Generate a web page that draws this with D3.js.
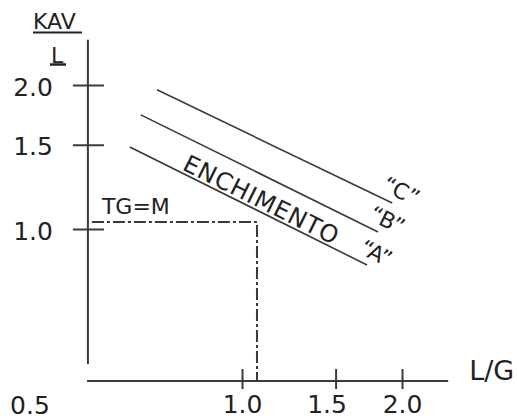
<!DOCTYPE html>
<html>
<head>
<meta charset="utf-8">
<script src="https://cdn.jsdelivr.net/npm/d3@7"></script>
<style>
  html, body { margin: 0; padding: 0; background: #fff; }
  svg { display: block; font-family: 'DejaVu Sans', sans-serif; }
</style>
</head>
<body>
<svg id="chart" width="517" height="419"></svg>
<script>
// Curvas características (log-log)
const packings = ['A', 'B', 'C'];
const lgStart  = [0.615, 0.645, 0.692];
const kavStart = [1.484, 1.732, 1.954];
const lgEnd    = [1.719, 1.803, 1.917];
const kavEnd   = [0.841, 0.986, 1.133];

const xTicks = [1.0, 1.5, 2.0];
const yTicks = [1.0, 1.5, 2.0];
const originLabel = '0.5';

// ponto de projeto TG=M  [L/G, KAV/L]
const designPoint = [1.067, 1.034];

// extensão dos eixos (em unidades dos dados)
const xAxisAt = 0.481;          // KAV/L onde fica o eixo L/G
const yAxisAt = 0.513;          // L/G onde fica o eixo KAV/L
const xAxisRange = [0.511, 2.443];
const yAxisRange = [0.522, 2.486];

const INK = '#3a3a3a';
const TXT = '#222';

const svg = d3.select('#chart');

const x = d3.scaleLog().domain([1, 2]).range([242, 402]);
const y = d3.scaleLog().domain([1, 2]).range([229, 85]);

// ── Eixos ────────────────────────────────────────────
svg.append('line')
  .attr('x1', x(yAxisAt)).attr('x2', x(yAxisAt))
  .attr('y1', y(yAxisRange[1])).attr('y2', y(yAxisRange[0]))
  .attr('stroke', INK).attr('stroke-width', 2);

svg.append('line')
  .attr('x1', x(xAxisRange[0])).attr('x2', x(xAxisRange[1]))
  .attr('y1', y(xAxisAt)).attr('y2', y(xAxisAt))
  .attr('stroke', INK).attr('stroke-width', 2);

const yAxis = svg.append('g')
  .attr('transform', `translate(${x(yAxisAt) + 16},0)`)
  .call(d3.axisLeft(y).tickValues(yTicks).tickFormat(d3.format('.1f'))
    .tickSizeInner(31).tickSizeOuter(0).tickPadding(20));

const xAxis = svg.append('g')
  .attr('transform', `translate(0,${y(xAxisAt) - 12})`)
  .call(d3.axisBottom(x).tickValues(xTicks).tickFormat(d3.format('.1f'))
    .tickSizeInner(20).tickSizeOuter(0).tickPadding(6));

[xAxis, yAxis].forEach(g => {
  g.select('.domain').remove();
  g.selectAll('.tick line').attr('stroke', INK).attr('stroke-width', 2);
  g.selectAll('.tick text')
    .attr('fill', TXT)
    .attr('font-family', "'DejaVu Sans', sans-serif")
    .attr('font-size', 25);
});
yAxis.selectAll('.tick text').attr('dy', '0.4em');
xAxis.selectAll('.tick text').attr('dx', d => d === 1.5 ? -9 : 0);

svg.append('text')
  .attr('x', x(0.5) - 52).attr('y', 414)
  .attr('text-anchor', 'middle')
  .attr('font-size', 25).attr('fill', TXT)
  .text(originLabel);

// título do eixo vertical: KAV / L (sublinhados)
svg.append('text')
  .attr('x', 33).attr('y', 29)
  .attr('font-size', 22).attr('fill', TXT)
  .text('KAV');
svg.append('line')
  .attr('x1', 33).attr('x2', 82).attr('y1', 32.5).attr('y2', 32.5)
  .attr('stroke', TXT).attr('stroke-width', 2);
svg.append('text')
  .attr('x', 51).attr('y', 63)
  .attr('font-size', 22).attr('fill', TXT)
  .text('L');
svg.append('line')
  .attr('x1', 50).attr('x2', 66).attr('y1', 64.5).attr('y2', 64.5)
  .attr('stroke', TXT).attr('stroke-width', 2.5);

svg.append('text')
  .attr('x', x(xAxisRange[1]) + 21).attr('y', y(xAxisAt) - 1)
  .attr('font-size', 27).attr('fill', TXT)
  .text('L/G');

// ── Ponto de projeto (traço-ponto) ───────────────────
const dp = [
  [x(yAxisAt) + 4, y(designPoint[1])],
  [x(designPoint[0]), y(designPoint[1])],
  [x(designPoint[0]), y(xAxisAt)]
];
svg.append('path')
  .attr('d', d3.line()(dp))
  .attr('fill', 'none')
  .attr('stroke', INK).attr('stroke-width', 2)
  .attr('stroke-dasharray', '12,3,3,3');

svg.append('text')
  .attr('x', x(yAxisAt) + 14).attr('y', y(designPoint[1]) - 8)
  .attr('font-size', 22).attr('fill', TXT)
  .text('TG=M');

// ── Curvas de enchimento ─────────────────────────────
const curves = packings.map((name, i) => {
  const p0 = [x(lgStart[i]), y(kavStart[i])];
  const p1 = [x(lgEnd[i]), y(kavEnd[i])];
  const ang = Math.atan2(p1[1] - p0[1], p1[0] - p0[0]);
  const len = Math.hypot(p1[0] - p0[0], p1[1] - p0[1]);
  return { name, p0, p1, ang, len };
});

svg.selectAll('.curve')
  .data(curves)
  .join('line')
  .attr('class', 'curve')
  .attr('x1', d => d.p0[0]).attr('y1', d => d.p0[1])
  .attr('x2', d => d.p1[0]).attr('y2', d => d.p1[1])
  .attr('stroke', INK).attr('stroke-width', 1.6);

// ponto ao longo da curva (s) e afastado para cima (h)
function along(d, s, h) {
  const ux = Math.cos(d.ang), uy = Math.sin(d.ang);
  return [d.p0[0] + ux * s + uy * h, d.p0[1] + uy * s - ux * h];
}
const deg = r => r * 180 / Math.PI;

svg.selectAll('.curve-label')
  .data(curves)
  .join('text')
  .attr('class', 'curve-label')
  .attr('transform', d => {
    const p = along(d, d.len + 3, 7);
    return `translate(${p[0]},${p[1]}) rotate(${deg(d.ang)})`;
  })
  .attr('text-anchor', 'middle')
  .attr('font-size', 22).attr('fill', TXT)
  .text(d => `\u201C${d.name}\u201D`);

const a = curves[0];
const pA = along(a, 56, 3);
svg.append('text')
  .attr('transform', `translate(${pA[0]},${pA[1]}) rotate(${deg(a.ang)})`)
  .attr('font-size', 24).attr('fill', TXT)
  .attr('textLength', 170).attr('lengthAdjust', 'spacing')
  .text('ENCHIMENTO');
</script>
</body>
</html>
